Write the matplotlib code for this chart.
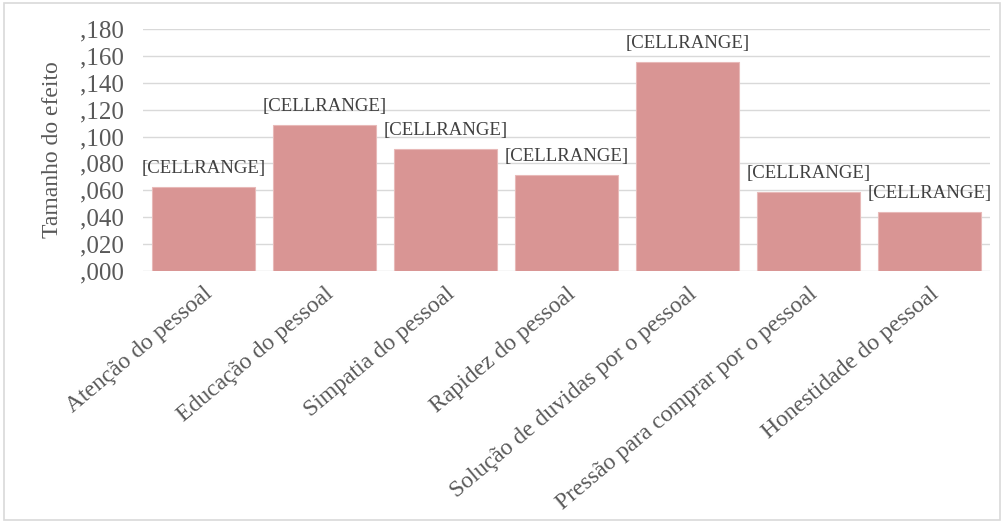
import matplotlib
matplotlib.use("Agg")
import matplotlib.pyplot as plt
from matplotlib.patches import Rectangle
from matplotlib.ticker import FuncFormatter, MultipleLocator

categories = [
    "Atenção do pessoal",
    "Educação do pessoal",
    "Simpatia do pessoal",
    "Rapidez do pessoal",
    "Solução de duvidas por o pessoal",
    "Pressão para comprar por o pessoal",
    "Honestidade do pessoal",
]
values = [0.0625, 0.1085, 0.0907, 0.0714, 0.1553, 0.0588, 0.0440]
data_labels = ["[CELLRANGE]"] * len(categories)

plt.rcParams['font.family'] = ['Liberation Serif', 'DejaVu Serif']

fig = plt.figure(figsize=(10.06, 5.23), dpi=100)
ax = fig.add_axes([0.142, 0.482, 0.842, 0.4626])

x = range(len(categories))
bars = ax.bar(x, values, width=0.85, color='#d99594', edgecolor='#e8b9b8', linewidth=0.8, zorder=3)

for b, lab in zip(bars, data_labels):
    ax.annotate(lab, (b.get_x() + b.get_width() / 2, b.get_height()),
                xytext=(0, 7), textcoords='offset points', ha='center', va='bottom',
                fontsize=13.5, color='#404040')

ax.set_xlim(-0.5, len(categories) - 0.5)
ax.set_ylim(0, 0.18)
ax.yaxis.set_major_locator(MultipleLocator(0.02))
ax.yaxis.set_major_formatter(FuncFormatter(lambda v, p: f"{v:.3f}".lstrip('0').replace('.', ',')))
ax.grid(axis='y', color='#d9d9d9', linewidth=1, zorder=0)
for s in ax.spines.values():
    s.set_visible(False)
ax.tick_params(axis='y', length=0, labelsize=18, colors='#595959', pad=14)
ax.tick_params(axis='x', length=0, labelsize=17, colors='#595959', pad=9)
ax.set_xticks(list(x))
ax.set_xticklabels(categories, rotation=40, ha='right', rotation_mode='anchor')
ax.set_ylabel("Tamanho do efeito", fontsize=17, color='#595959')
ax.yaxis.set_label_coords(-0.094, 0.5)

fig.patches.append(Rectangle((0.004, 0.006), 0.99, 0.988, transform=fig.transFigure,
                             fill=False, edgecolor='#d9d9d9', linewidth=1.2))

fig.savefig("out.png", dpi=100)
